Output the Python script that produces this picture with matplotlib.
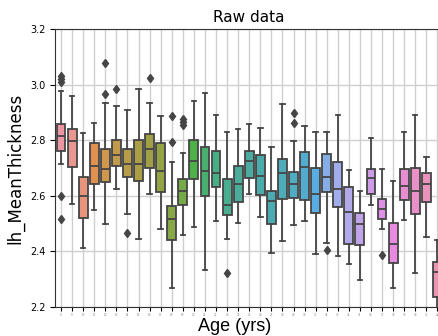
import numpy as np
import matplotlib
matplotlib.use("Agg")
import matplotlib.pyplot as plt
import colorsys
import seaborn as sns

# per-age box statistics of lh_MeanThickness
ages = [str(a) for a in range(8, 43)]
whislo = [2.714, 2.569, 2.411, 2.549, 2.497, 2.625, 2.533, 2.445, 2.608, 2.481,
          2.267, 2.459, 2.488, 2.334, 2.510, 2.444, 2.500, 2.608, 2.524, 2.394,
          2.438, 2.494, 2.509, 2.390, 2.428, 2.382, 2.355, 2.296, 2.565, 2.481,
          2.269, 2.511, 2.322, 2.450, 2.150]
q1 = [2.761, 2.702, 2.519, 2.643, 2.648, 2.709, 2.668, 2.652, 2.701, 2.614,
      2.439, 2.565, 2.659, 2.599, 2.630, 2.529, 2.576, 2.665, 2.602, 2.499,
      2.589, 2.592, 2.586, 2.537, 2.614, 2.560, 2.426, 2.421, 2.606, 2.516,
      2.358, 2.584, 2.533, 2.577, 2.236]
med = [2.816, 2.798, 2.598, 2.707, 2.697, 2.747, 2.715, 2.715, 2.768, 2.688,
       2.515, 2.618, 2.724, 2.689, 2.683, 2.565, 2.644, 2.726, 2.671, 2.581,
       2.682, 2.641, 2.702, 2.606, 2.666, 2.623, 2.543, 2.497, 2.664, 2.551,
       2.427, 2.636, 2.618, 2.644, 2.326]
q3 = [2.857, 2.839, 2.668, 2.791, 2.768, 2.801, 2.767, 2.801, 2.824, 2.791,
      2.564, 2.662, 2.801, 2.777, 2.762, 2.659, 2.706, 2.760, 2.747, 2.617,
      2.733, 2.685, 2.759, 2.701, 2.750, 2.720, 2.632, 2.537, 2.695, 2.588,
      2.500, 2.695, 2.701, 2.683, 2.362]
whishi = [2.978, 2.960, 2.826, 2.862, 2.933, 2.924, 2.909, 2.985, 2.935, 2.887,
          2.720, 2.755, 2.943, 2.969, 2.892, 2.831, 2.840, 2.857, 2.845, 2.774,
          2.929, 2.798, 2.852, 2.831, 2.828, 2.892, 2.691, 2.618, 2.809, 2.695,
          2.654, 2.831, 2.892, 2.739, 2.440]
outliers = [[3.03, 3.02, 3.01, 2.60, 2.515], [], [], [], [3.08, 2.967],
            [2.985], [2.467], [], [3.026], [],
            [2.795, 2.888], [2.875, 2.865, 2.855], [], [], [],
            [2.322], [], [], [], [],
            [], [2.900, 2.863], [], [], [2.403],
            [], [], [], [], [2.385],
            [], [], [], [], []]

stats = []
for i in range(len(ages)):
    stats.append(dict(med=med[i], q1=q1[i], q3=q3[i], whislo=whislo[i],
                      whishi=whishi[i], fliers=outliers[i]))

# husl palette, desaturated like seaborn's categorical plots
colors = [sns.desaturate(c, 0.75) for c in sns.husl_palette(len(ages), l=.7)]
lum = min(colorsys.rgb_to_hls(*c)[1] for c in colors) * 0.6
gray = (lum, lum, lum)

fig = plt.figure(figsize=(4.39, 3.36), dpi=100)
ax = fig.add_axes([0.1264, 0.0872, 0.8826, 0.8256])

pos = np.arange(len(ages))
lw = 1.3
bp = ax.bxp(stats, positions=pos, widths=0.8, patch_artist=True,
            boxprops=dict(edgecolor=gray, linewidth=lw),
            medianprops=dict(color=gray, linewidth=lw),
            whiskerprops=dict(color=gray, linewidth=lw),
            capprops=dict(color=gray, linewidth=lw),
            flierprops=dict(marker='d', markerfacecolor=gray, markeredgecolor=gray,
                            markersize=4.5, linestyle='none'),
            zorder=2)
for patch, c in zip(bp['boxes'], colors):
    patch.set_facecolor(c)

ax.set_xlim(-0.5, len(ages) - 0.5)
ax.set_ylim(2.2, 3.2)
ax.set_yticks([2.2, 2.4, 2.6, 2.8, 3.0, 3.2])
ax.set_xticks(pos)
ax.set_xticklabels(ages, fontsize=2, color='#888888')
ax.tick_params(axis='y', labelsize=7, length=3.5)
ax.tick_params(axis='x', length=3, pad=1.5)
ax.grid(True, color='#cfcfcf', linewidth=1.0, zorder=0)
ax.set_axisbelow(True)
for s in ax.spines.values():
    s.set_color('#333333')

ax.set_title('Raw data', fontsize=11, pad=5)
ax.set_ylabel('lh_MeanThickness', fontsize=12)
ax.set_xlabel('Age (yrs)', fontsize=13, family='Liberation Sans')
ax.xaxis.set_label_coords(0.463, -0.042)

fig.savefig('out.png', dpi=100)
